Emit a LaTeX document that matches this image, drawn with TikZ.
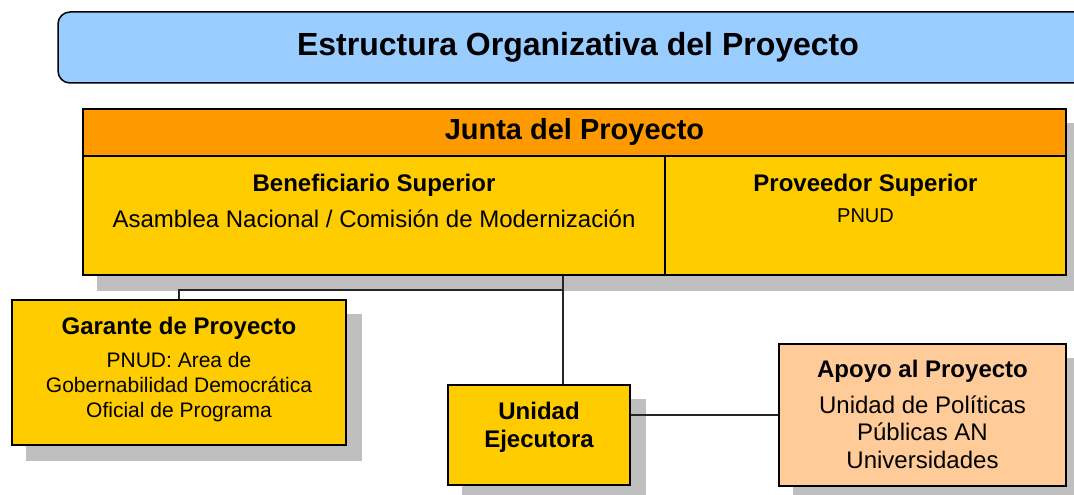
\documentclass[tikz,border=0pt]{standalone}
\usepackage{fontspec}
\setmainfont{Liberation Sans}
\usetikzlibrary{calc,backgrounds}

\definecolor{titleblue}{HTML}{99CCFF}
\definecolor{headorange}{HTML}{FF9900}
\definecolor{boxyellow}{HTML}{FFCC00}
\definecolor{boxpeach}{HTML}{FFCC99}
\definecolor{shadowgray}{HTML}{BFBFBF}

\begin{document}
\begin{tikzpicture}[x=1pt,y=-1pt,
  box/.style={draw=black,line width=1.5pt,inner sep=0pt},
  shade/.style={fill=shadowgray,draw=none},
  txt/.style={font=\fontsize{24}{28}\selectfont,inner sep=0pt,anchor=base},
  hd/.style={txt,font=\fontsize{24}{28}\selectfont\bfseries},
  link/.style={line width=1.5pt,draw=black!85}]
 \useasboundingbox (0,0) rectangle (1074,495);
 \clip (0,0) rectangle (1074,495);
 % title bar
 \node[box,fill=titleblue,rounded corners=12pt,minimum width=1040pt,minimum height=71pt,
   font=\fontsize{32}{36}\selectfont\bfseries] (title) at (578,47.5) {Estructura Organizativa del Proyecto};
 % junta
 \node[box,fill=headorange,minimum width=983pt,minimum height=47pt,
   font=\fontsize{29}{32}\selectfont\bfseries] (jhead) at (574.5,132.5) {Junta del Proyecto};
 \node[box,fill=boxyellow,minimum width=582pt,minimum height=119pt] (benef) at (374,215.5) {};
 \node[box,fill=boxyellow,minimum width=401pt,minimum height=119pt] (prov) at (865.5,215.5) {};
 \node[hd] (benef_t) at (374,191) {Beneficiario Superior};
 \node[txt] (benef_1) at (374,227) {Asamblea Nacional / Comisión de Modernización};
 \node[hd] (prov_t) at (865.5,191) {Proveedor Superior};
 \node[txt,font=\fontsize{20}{24}\selectfont] (prov_1) at (865.5,222) {PNUD};
 % lower boxes
 \node[box,fill=boxyellow,minimum width=334pt,minimum height=145pt] (garante) at (179,372.5) {};
 \node[hd] (garante_t) at (179,334) {Garante de Proyecto};
 \foreach \line [count=\i] in {PNUD: Area de,Gobernabilidad Democrática,Oficial de Programa}
   \node[txt,font=\fontsize{21}{25}\selectfont] (garante_\i) at (179,342+25*\i) {\line};
 \node[box,fill=boxyellow,minimum width=182pt,minimum height=100pt] (unidad) at (539,435) {};
 \node[hd] (unidad_1) at (539,419) {Unidad};
 \node[hd] (unidad_2) at (539,447) {Ejecutora};
 \node[box,fill=boxpeach,minimum width=287pt,minimum height=142pt] (apoyo) at (922.5,415) {};
 \node[hd] (apoyo_t) at (922.5,377) {Apoyo al Proyecto};
 \foreach \line [count=\i] in {Unidad de Políticas,Públicas AN,Universidades}
   \node[txt] (apoyo_\i) at (922.5,385.5+27.5*\i) {\line};
 % shadows
 \begin{scope}[on background layer]
  \fill[shade] ($(jhead.north west)+(15,15)$) rectangle ($(prov.south east)+(15,15)$);
  \foreach \n in {garante,unidad,apoyo}
    \fill[shade] ($(\n.north west)+(15,15)$) rectangle ($(\n.south east)+(15,15)$);
 \end{scope}
 % links
 \coordinate (tap) at (563,290);
 \draw[link] (benef.south -| tap) -- (unidad.north -| tap);
 \draw[link] (tap) -| (garante.north);
 \draw[link] (unidad.east |- apoyo.west) -- (apoyo.west);
\end{tikzpicture}
\end{document}
